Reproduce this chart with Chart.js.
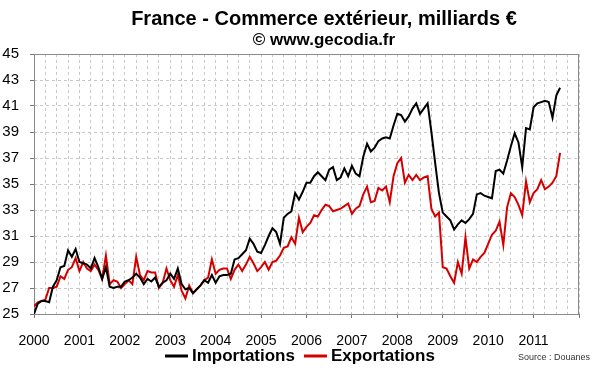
<!DOCTYPE html>
<html>
<head>
<meta charset="utf-8">
<script src="https://cdn.jsdelivr.net/npm/chart.js@4"></script>
<style>
  html, body { margin: 0; padding: 0; background: #fff; }
  #wrap { width: 600px; height: 372px; }
</style>
</head>
<body>
<div id="wrap"><canvas id="commerceChart"></canvas></div>
<script>
// monthly values, January 2000 -> August 2011 (milliards €)
const years = ['2000', '2001', '2002', '2003', '2004', '2005', '2006', '2007', '2008', '2009', '2010', '2011'];
const seriesNames = ['Importations', 'Exportations'];
const seriesColors = ['#000000', '#d40000'];

const importations = [
  25.0, 25.8, 26.0, 26.0, 25.9, 27.1, 27.6, 28.6, 28.7, 29.9, 29.4, 30.0,
  29.0, 28.9, 28.8, 28.5, 29.3, 28.6, 27.7, 28.6, 27.1, 27.0, 27.1, 27.1,
  27.5, 27.6, 27.8, 28.1, 27.8, 27.3, 27.7, 27.5, 27.8, 27.1, 27.4, 27.6,
  28.1, 27.7, 28.5, 27.3, 26.9, 27.0, 26.6, 26.9, 27.2, 27.6, 27.4, 28.0,
  27.4, 27.9, 28.0, 28.0, 28.1, 29.2, 29.3, 29.6, 29.9, 30.8, 30.4, 29.8,
  29.7, 30.3, 31.0, 31.6, 31.3, 30.4, 32.4, 32.7, 32.9, 34.3, 33.8, 34.4,
  35.1, 35.1, 35.6, 35.9, 35.6, 35.3, 36.1, 36.3, 35.3, 35.5, 36.2, 35.6,
  36.4, 35.8, 35.6, 37.1, 38.1, 37.5, 37.8, 38.3, 38.5, 38.6, 38.5, 39.5,
  40.4, 40.3, 39.8, 40.2, 40.8, 41.2, 40.4, 40.8, 41.2, 39.0, 36.6, 34.3,
  32.8, 32.5, 32.2, 31.5, 31.9, 32.2, 32.0, 32.3, 32.7, 34.2, 34.3, 34.1,
  34.0, 33.9, 36.0, 36.1, 35.8, 36.8, 37.9, 38.9, 38.2, 36.3, 39.3, 39.2,
  40.9, 41.2, 41.3, 41.4, 41.3, 40.1, 41.8, 42.4
];

const exportations = [
  25.6, 25.9, 26.0, 26.1, 27.0, 27.0, 27.1, 27.9, 27.7, 28.4, 28.6, 29.3,
  28.3, 29.0, 28.5, 28.3, 28.8, 28.4, 27.7, 29.5, 27.3, 27.6, 27.5, 27.0,
  27.3, 27.6, 27.3, 29.4, 28.0, 27.6, 28.3, 28.2, 28.2, 27.0, 27.4, 28.5,
  27.6, 27.1, 28.0, 26.8, 26.2, 27.2, 26.6, 26.9, 27.2, 27.6, 27.8, 29.2,
  28.1, 28.4, 28.5, 28.5, 27.7, 28.4, 28.8, 28.3, 28.8, 29.4, 28.9, 28.3,
  28.6, 29.0, 28.4, 29.0, 29.1, 29.5, 30.1, 30.2, 30.9, 30.4, 32.4, 31.3,
  31.7, 32.0, 32.6, 32.5, 33.0, 33.4, 33.3, 32.9, 33.0, 33.1, 33.3, 33.5,
  32.7, 33.1, 33.3, 34.2, 34.8, 33.6, 33.7, 34.7, 34.5, 34.8, 33.6, 35.6,
  36.6, 37.0, 35.1, 35.7, 35.3, 35.7, 35.3, 35.5, 35.6, 33.1, 32.5, 32.8,
  28.6, 28.5, 27.9, 27.4, 29.0, 28.1, 30.9, 28.5, 29.2, 29.0, 29.4, 29.7,
  30.4, 31.1, 31.4, 32.1, 30.3, 33.2, 34.3, 34.0, 33.4, 32.6, 35.2, 33.6,
  34.3, 34.6, 35.3, 34.6, 34.8, 35.1, 35.6, 37.4
];

const yMin = 25;
const yMax = 45;

const FONT = '"Liberation Sans", Arial, Helvetica, sans-serif';

const toPoints = (arr) => arr.map((v, i) => ({ x: i, y: v }));

// title, subtitle, legend, source and the plot frame
const decorations = {
  id: 'decorations',
  beforeDatasetsDraw(chart) {
    const { ctx, chartArea } = chart;
    ctx.save();
    ctx.strokeStyle = '#8a8a8a';
    ctx.lineWidth = 1;
    ctx.strokeRect(
      Math.round(chartArea.left) + 0.5,
      Math.round(chartArea.top) + 0.5,
      Math.round(chartArea.right - chartArea.left) - 1,
      Math.round(chartArea.bottom - chartArea.top)
    );
    ctx.restore();
  },
  afterDraw(chart) {
    const ctx = chart.ctx;
    ctx.save();
    ctx.fillStyle = '#000';
    ctx.textAlign = 'center';
    ctx.textBaseline = 'middle';
    ctx.font = 'bold 20px ' + FONT;
    ctx.fillText('France - Commerce extérieur, milliards €', 324, 19);
    ctx.font = 'bold 17px ' + FONT;
    ctx.fillText('© www.gecodia.fr', 324, 40);

    // legend
    ctx.textAlign = 'left';
    ctx.font = 'bold 17px ' + FONT;
    let x = 165;
    const ly = 356;
    chart.data.datasets.forEach((ds) => {
      ctx.fillStyle = ds.borderColor;
      ctx.fillRect(x, ly - 1.5, 23, 3);
      x += 27;
      ctx.fillStyle = '#000';
      ctx.fillText(ds.label, x, ly);
      x += ctx.measureText(ds.label).width + 9;
    });

    ctx.font = '9px ' + FONT;
    ctx.fillStyle = '#333';
    ctx.textAlign = 'right';
    ctx.fillText('Source : Douanes', 590, 358);
    ctx.restore();
  },
};

const ctx = document.getElementById('commerceChart').getContext('2d');

new Chart(ctx, {
  type: 'line',
  data: {
    datasets: [
      {
        label: seriesNames[0],
        data: toPoints(importations),
        borderColor: seriesColors[0],
        backgroundColor: seriesColors[0],
        borderWidth: 2,
        pointRadius: 0,
        tension: 0,
      },
      {
        label: seriesNames[1],
        data: toPoints(exportations),
        borderColor: seriesColors[1],
        backgroundColor: seriesColors[1],
        borderWidth: 2,
        pointRadius: 0,
        tension: 0,
      },
    ],
  },
  options: {
    responsive: true,
    maintainAspectRatio: false,
    animation: false,
    layout: {
      padding: { top: 54, right: 21, bottom: 0, left: 0 },
    },
    plugins: {
      title: { display: false },
      tooltip: { enabled: false },
      legend: { display: false },
    },
    scales: {
      x: {
        type: 'linear',
        min: 0,
        max: years.length * 12,
        afterFit: (scale) => { scale.height = 58; },
        border: { display: false, dash: [3, 3] },
        grid: {
          color: '#c8c8c8',
          tickLength: 4,
          tickBorderDash: [],
          tickColor: (c) => (c.tick && c.tick.value % 12 === 0 ? '#777' : 'rgba(0,0,0,0)'),
        },
        ticks: {
          stepSize: 3,
          autoSkip: false,
          maxRotation: 0,
          padding: 14.5,
          color: '#000',
          font: { family: FONT, size: 14 },
          callback: function (value) {
            if (value % 12 !== 0) return '';
            const y = years[value / 12];
            return y === undefined ? '' : y;
          },
        },
      },
      y: {
        min: yMin,
        max: yMax,
        afterFit: (scale) => { scale.width = 34; },
        border: { display: false, dash: [3, 3] },
        grid: {
          color: '#c8c8c8',
          tickLength: 4,
          tickBorderDash: [],
          tickColor: (c) => (c.tick && (c.tick.value - yMin) % 2 === 0 ? '#777' : 'rgba(0,0,0,0)'),
        },
        ticks: {
          stepSize: 1,
          padding: 11,
          color: '#000',
          font: { family: FONT, size: 15 },
          callback: (value) => ((value - yMin) % 2 === 0 ? String(value) : ''),
        },
      },
    },
  },
  plugins: [decorations],
});
</script>
</body>
</html>
